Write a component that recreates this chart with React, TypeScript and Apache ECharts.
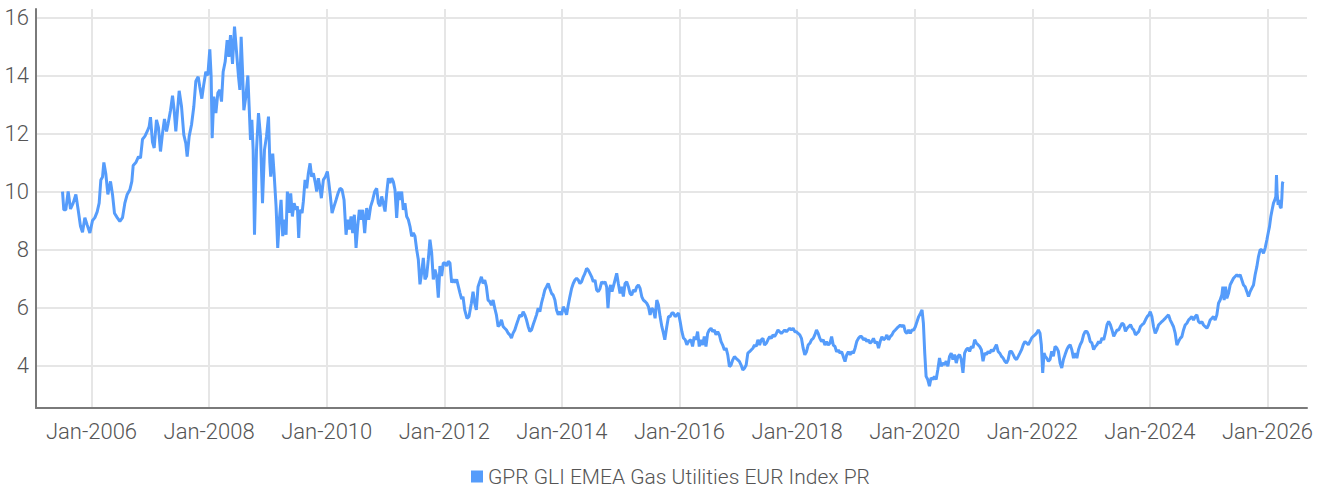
import React, { useEffect, useRef } from 'react';
import * as echarts from 'echarts';

const seriesName = 'GPR GLI EMEA Gas Utilities EUR Index PR';
const xTickYears = [2006, 2008, 2010, 2012, 2014, 2016, 2018, 2020, 2022, 2024, 2026];
const yTicks = [4, 6, 8, 10, 12, 14, 16];

// [decimal year, index level]
const seg2005to2008: [number, number][] = [
  [2005.507,10.0],[2005.529,9.37],[2005.563,9.37],[2005.603,10.0],[2005.643,9.4],[2005.688,9.6],[2005.734,9.9],[2005.773,9.37],[2005.813,8.8],[2005.847,8.6],[2005.887,9.1],[2005.926,8.85],[2005.972,8.57],[2006.017,9.0],[2006.057,9.1],[2006.096,9.3],[2006.130,9.6],[2006.159,10.4],[2006.187,10.5],[2006.210,11.0],[2006.244,10.6],[2006.278,9.9],[2006.323,10.35],[2006.357,9.9],[2006.391,9.25],[2006.437,9.1],[2006.482,8.97],[2006.527,9.1],[2006.567,9.6],[2006.607,9.9],[2006.652,10.06],[2006.686,10.35],[2006.709,10.9],[2006.754,11.0],[2006.799,11.2],[2006.833,11.15],[2006.867,11.8],[2006.907,11.9],[2006.947,12.07],[2006.981,12.24],[2007.003,12.56],[2007.037,11.7],[2007.066,11.5],[2007.105,12.47],[2007.139,12.2],[2007.173,11.38],[2007.207,12.0],[2007.241,12.5],[2007.276,12.07],[2007.304,12.35],[2007.344,12.8],[2007.378,13.3],[2007.406,12.8],[2007.434,12.07],[2007.463,12.8],[2007.491,13.47],[2007.531,12.93],[2007.570,11.95],[2007.604,11.66],[2007.627,11.2],[2007.661,11.9],[2007.701,12.3],[2007.740,12.93],[2007.774,13.8],[2007.814,13.96],[2007.842,13.6],[2007.876,13.2],[2007.910,13.7],[2007.944,14.13],[2007.978,14.0],[2008.012,14.9],[2008.035,13.96],[2008.052,11.84],[2008.080,13.27],[2008.115,12.7],[2008.149,13.4],[2008.183,13.5],[2008.211,13.1],[2008.239,14.13],[2008.273,14.47],[2008.307,15.22],[2008.336,14.64],[2008.364,15.39],[2008.398,14.4],[2008.432,15.68],[2008.466,14.82],[2008.500,13.96],[2008.523,13.5],[2008.545,15.33],[2008.568,14.19],[2008.591,12.8],[2008.625,13.27],[2008.659,14.0],[2008.681,12.93],[2008.704,11.78],[2008.727,12.47],[2008.749,11.44],[2008.772,8.51],[2008.806,11.44],[2008.840,12.7],[2008.874,11.9],[2008.908,9.6],[2008.942,11.44],[2008.976,11.9],[2009.010,12.58],[2009.033,11.0],
];

const seg2009to2012: [number, number][] = [
  [2009.048,10.51],[2009.082,11.31],[2009.105,10.63],[2009.139,9.49],[2009.167,8.06],[2009.195,9.03],[2009.224,9.71],[2009.252,8.46],[2009.280,9.03],[2009.309,8.51],[2009.331,10.0],[2009.360,9.26],[2009.388,9.94],[2009.416,9.14],[2009.445,9.6],[2009.479,9.37],[2009.501,9.49],[2009.524,8.4],[2009.547,9.37],[2009.581,9.26],[2009.603,9.66],[2009.632,10.4],[2009.660,10.11],[2009.688,10.63],[2009.717,10.97],[2009.745,10.51],[2009.773,10.63],[2009.807,10.29],[2009.830,10.0],[2009.858,10.46],[2009.887,10.11],[2009.909,9.77],[2009.943,10.4],[2009.977,10.51],[2010.011,10.69],[2010.034,10.34],[2010.057,9.94],[2010.091,9.26],[2010.125,9.49],[2010.159,9.71],[2010.193,9.94],[2010.227,10.11],[2010.261,10.06],[2010.295,9.71],[2010.329,8.51],[2010.357,9.03],[2010.385,8.69],[2010.414,9.14],[2010.442,8.57],[2010.470,9.2],[2010.499,8.06],[2010.527,8.8],[2010.555,9.37],[2010.584,9.03],[2010.612,9.37],[2010.646,8.57],[2010.680,9.43],[2010.714,9.03],[2010.748,9.49],[2010.782,9.71],[2010.816,10.0],[2010.850,10.11],[2010.878,9.6],[2010.907,9.49],[2010.935,9.83],[2010.963,9.6],[2010.992,9.31],[2011.020,9.94],[2011.048,10.46],[2011.076,10.29],[2011.105,10.46],[2011.133,10.34],[2011.161,10.06],[2011.190,9.09],[2011.218,10.0],[2011.246,9.71],[2011.275,10.0],[2011.303,9.37],[2011.331,9.6],[2011.360,9.14],[2011.388,9.03],[2011.416,8.8],[2011.445,8.46],[2011.473,8.57],[2011.501,8.46],[2011.530,8.0],[2011.558,7.66],[2011.586,6.8],[2011.615,7.2],[2011.643,7.71],[2011.671,6.97],[2011.700,7.09],[2011.728,7.66],[2011.756,8.34],[2011.785,7.89],[2011.813,6.97],[2011.841,7.31],[2011.870,7.09],[2011.898,6.34],[2011.926,7.43],[2011.955,7.09],[2011.983,7.54],[2012.011,7.54],[2012.040,7.43],[2012.068,7.6],[2012.096,7.54],[2012.125,6.86],[2012.153,6.97],[2012.181,6.86],[2012.210,6.97],[2012.238,6.74],[2012.266,6.51],[2012.295,6.29],
];

const seg2012to2016: [number, number][] = [
  [2012.318,6.38],[2012.347,5.92],[2012.386,5.63],[2012.420,5.69],[2012.460,6.15],[2012.489,6.55],[2012.517,6.15],[2012.545,5.92],[2012.574,6.72],[2012.602,6.89],[2012.631,7.06],[2012.659,6.83],[2012.688,6.95],[2012.716,6.72],[2012.744,6.26],[2012.773,6.21],[2012.801,6.09],[2012.830,6.26],[2012.858,5.98],[2012.886,5.75],[2012.915,5.35],[2012.943,5.41],[2012.972,5.58],[2013.000,5.35],[2013.028,5.29],[2013.057,5.23],[2013.085,5.12],[2013.114,5.06],[2013.142,4.95],[2013.170,5.12],[2013.199,5.23],[2013.227,5.41],[2013.256,5.58],[2013.284,5.75],[2013.313,5.69],[2013.341,5.86],[2013.369,5.75],[2013.398,5.58],[2013.426,5.35],[2013.455,5.18],[2013.483,5.23],[2013.511,5.41],[2013.540,5.58],[2013.568,5.75],[2013.597,5.98],[2013.625,5.86],[2013.653,6.15],[2013.682,6.38],[2013.710,6.61],[2013.739,6.72],[2013.767,6.83],[2013.795,6.66],[2013.824,6.49],[2013.852,6.43],[2013.881,6.26],[2013.909,5.92],[2013.938,5.75],[2013.966,5.86],[2013.994,5.75],[2014.023,6.03],[2014.051,5.92],[2014.080,5.75],[2014.108,6.09],[2014.136,6.38],[2014.165,6.66],[2014.193,6.83],[2014.222,6.95],[2014.250,7.01],[2014.278,6.95],[2014.307,6.83],[2014.335,6.89],[2014.364,7.06],[2014.392,7.18],[2014.420,7.35],[2014.449,7.29],[2014.477,7.18],[2014.506,7.06],[2014.534,6.89],[2014.563,6.95],[2014.591,6.61],[2014.619,6.55],[2014.648,6.66],[2014.676,6.89],[2014.705,6.83],[2014.733,6.89],[2014.761,6.72],[2014.784,5.98],[2014.807,6.61],[2014.830,6.78],[2014.852,6.55],[2014.875,6.72],[2014.903,6.95],[2014.932,7.18],[2014.960,6.83],[2014.989,6.49],[2015.017,6.72],[2015.045,6.38],[2015.074,6.83],[2015.102,6.89],[2015.131,6.72],[2015.159,6.49],[2015.188,6.43],[2015.216,6.61],[2015.244,6.55],[2015.273,6.72],[2015.301,6.78],[2015.330,6.66],[2015.358,6.38],[2015.386,6.26],[2015.415,6.21],[2015.443,6.15],[2015.472,6.03],[2015.500,5.75],[2015.528,5.98],[2015.557,5.92],[2015.585,5.63],[2015.614,6.26],[2015.642,6.09],[2015.670,5.69],[2015.699,5.35],[2015.727,5.12],[2015.750,4.89],[2015.784,5.35],[2015.813,5.69],[2015.841,5.69],[2015.869,5.81],[2015.898,5.81],[2015.926,5.69],[2015.955,5.75],[2015.983,5.81],[2016.011,5.52],[2016.040,5.18],[2016.068,4.95],[2016.097,4.89],[2016.125,4.72],[2016.153,4.83],
];

const seg2016to2020: [number, number][] = [
  [2016.194,4.89],[2016.222,4.66],[2016.251,5.0],[2016.279,4.89],[2016.308,5.17],[2016.336,4.66],[2016.365,4.89],[2016.393,4.71],[2016.422,5.0],[2016.450,4.66],[2016.479,5.11],[2016.507,5.23],[2016.536,5.29],[2016.564,5.17],[2016.593,5.23],[2016.621,5.06],[2016.650,5.17],[2016.678,5.06],[2016.707,4.83],[2016.735,4.71],[2016.764,4.54],[2016.792,4.6],[2016.821,4.37],[2016.849,3.97],[2016.877,4.02],[2016.906,4.2],[2016.934,4.31],[2016.963,4.25],[2016.991,4.2],[2017.020,4.14],[2017.048,4.02],[2017.077,3.85],[2017.105,3.91],[2017.134,4.02],[2017.162,4.43],[2017.191,4.48],[2017.219,4.54],[2017.248,4.6],[2017.276,4.71],[2017.305,4.66],[2017.333,4.89],[2017.362,4.71],[2017.390,4.89],[2017.419,4.94],[2017.447,4.71],[2017.476,4.77],[2017.504,4.89],[2017.533,5.0],[2017.561,4.94],[2017.590,5.06],[2017.618,5.0],[2017.647,5.11],[2017.675,5.23],[2017.704,5.17],[2017.732,5.11],[2017.761,5.17],[2017.789,5.23],[2017.818,5.17],[2017.846,5.23],[2017.875,5.29],[2017.903,5.23],[2017.932,5.29],[2017.960,5.17],[2017.989,5.17],[2018.017,5.11],[2018.046,5.06],[2018.074,4.94],[2018.103,4.6],[2018.131,4.37],[2018.160,4.48],[2018.188,4.71],[2018.217,4.77],[2018.245,4.89],[2018.274,4.94],[2018.302,5.06],[2018.330,5.23],[2018.359,5.11],[2018.387,4.94],[2018.416,4.83],[2018.444,4.89],[2018.473,4.71],[2018.501,4.83],[2018.530,4.71],[2018.558,4.77],[2018.587,5.0],[2018.615,4.71],[2018.644,4.66],[2018.672,4.48],[2018.701,4.54],[2018.729,4.43],[2018.758,4.48],[2018.786,4.31],[2018.815,4.14],[2018.843,4.37],[2018.872,4.48],[2018.900,4.37],[2018.929,4.48],[2018.957,4.43],[2018.986,4.6],[2019.014,4.83],[2019.043,4.94],[2019.071,5.0],[2019.100,5.0],[2019.128,4.89],[2019.157,4.94],[2019.185,4.83],[2019.214,4.89],[2019.242,4.77],[2019.271,4.83],[2019.299,4.94],[2019.328,4.77],[2019.356,4.83],[2019.385,4.6],[2019.413,4.83],[2019.442,5.0],[2019.470,4.89],[2019.499,4.94],[2019.527,5.06],[2019.556,4.89],[2019.584,5.0],[2019.613,5.06],[2019.641,5.17],[2019.670,5.23],[2019.698,5.29],[2019.726,5.34],[2019.755,5.4],[2019.783,5.34],[2019.812,5.4],[2019.840,5.17],[2019.869,5.11],[2019.897,5.23],[2019.926,5.11],[2019.954,5.23],[2019.983,5.23],[2020.011,5.34],[2020.040,5.52],[2020.068,5.69],[2020.097,5.8],[2020.125,5.92],
];

const seg2020to2023: [number, number][] = [
  [2020.148,5.46],[2020.171,4.43],[2020.194,3.63],[2020.222,3.52],[2020.251,3.29],[2020.279,3.58],[2020.308,3.52],[2020.336,3.63],[2020.365,3.52],[2020.393,3.86],[2020.422,4.26],[2020.450,3.98],[2020.479,4.09],[2020.507,4.03],[2020.536,4.15],[2020.564,3.98],[2020.593,4.32],[2020.621,4.43],[2020.650,4.21],[2020.678,4.38],[2020.707,4.09],[2020.735,4.32],[2020.764,4.38],[2020.792,4.21],[2020.821,3.75],[2020.849,4.43],[2020.877,4.55],[2020.906,4.61],[2020.934,4.49],[2020.963,4.66],[2020.991,4.61],[2021.020,4.89],[2021.048,4.78],[2021.077,4.72],[2021.105,4.66],[2021.134,4.55],[2021.162,4.15],[2021.191,4.43],[2021.219,4.38],[2021.248,4.49],[2021.276,4.43],[2021.305,4.55],[2021.333,4.49],[2021.362,4.61],[2021.390,4.72],[2021.419,4.49],[2021.447,4.43],[2021.476,4.32],[2021.504,4.26],[2021.533,4.15],[2021.561,4.09],[2021.590,4.21],[2021.618,4.49],[2021.647,4.49],[2021.675,4.38],[2021.704,4.26],[2021.732,4.21],[2021.761,4.32],[2021.789,4.43],[2021.818,4.55],[2021.846,4.72],[2021.875,4.83],[2021.903,4.78],[2021.932,4.72],[2021.960,4.83],[2021.989,4.95],[2022.017,5.01],[2022.046,5.06],[2022.074,5.12],[2022.103,5.23],[2022.131,5.12],[2022.154,4.72],[2022.177,3.75],[2022.199,4.43],[2022.222,4.32],[2022.245,4.26],[2022.274,4.15],[2022.302,4.21],[2022.330,4.49],[2022.359,4.32],[2022.387,4.66],[2022.416,4.61],[2022.444,4.49],[2022.473,4.09],[2022.501,3.92],[2022.530,4.21],[2022.558,4.38],[2022.587,4.55],[2022.615,4.66],[2022.644,4.72],[2022.672,4.55],[2022.701,4.26],[2022.729,4.43],[2022.758,4.26],[2022.786,4.55],[2022.815,4.72],[2022.843,4.83],[2022.872,5.06],[2022.900,5.18],[2022.929,5.18],[2022.957,5.06],[2022.986,4.83],[2023.014,4.78],[2023.043,4.55],[2023.071,4.66],[2023.100,4.72],[2023.128,4.83],[2023.157,4.78],[2023.185,4.95],[2023.214,4.89],[2023.242,5.12],[2023.271,5.41],[2023.299,5.52],[2023.328,5.41],[2023.356,5.23],[2023.385,5.01],[2023.413,5.12],[2023.442,5.23],[2023.470,5.23],[2023.499,5.35],[2023.527,5.46],[2023.556,5.41],[2023.584,5.18],[2023.613,5.29],[2023.641,5.35],[2023.670,5.41],[2023.698,5.29],[2023.726,5.23],[2023.755,5.06],[2023.783,5.12],[2023.812,5.18],[2023.840,5.35],[2023.869,5.41],[2023.897,5.46],[2023.926,5.58],[2023.954,5.69],[2023.983,5.75],
];

const seg2024to2026: [number, number][] = [
  [2024.006,5.86],[2024.034,5.69],[2024.062,5.34],[2024.091,5.11],[2024.119,5.23],[2024.147,5.40],[2024.176,5.46],[2024.204,5.52],[2024.232,5.57],[2024.261,5.63],[2024.289,5.69],[2024.317,5.75],[2024.346,5.57],[2024.374,5.46],[2024.402,5.34],[2024.431,5.11],[2024.459,4.71],[2024.487,4.83],[2024.516,4.94],[2024.544,5.0],[2024.572,5.23],[2024.600,5.40],[2024.629,5.46],[2024.657,5.57],[2024.686,5.63],[2024.714,5.69],[2024.742,5.57],[2024.771,5.69],[2024.799,5.75],[2024.827,5.52],[2024.856,5.46],[2024.884,5.52],[2024.912,5.40],[2024.941,5.34],[2024.969,5.29],[2024.997,5.40],[2025.025,5.57],[2025.054,5.63],[2025.082,5.69],[2025.110,5.57],[2025.139,5.75],[2025.167,6.15],[2025.195,6.26],[2025.224,6.44],[2025.241,6.72],[2025.263,6.26],[2025.286,6.72],[2025.309,6.32],[2025.337,6.49],[2025.365,6.78],[2025.394,6.9],[2025.422,7.01],[2025.450,7.07],[2025.479,7.13],[2025.507,7.07],[2025.535,7.13],[2025.564,6.95],[2025.592,6.78],[2025.620,6.72],[2025.649,6.55],[2025.677,6.38],[2025.705,6.55],[2025.734,6.67],[2025.762,6.78],[2025.790,7.13],[2025.819,7.41],[2025.847,7.76],[2025.875,7.99],[2025.904,7.99],[2025.932,7.87],[2025.960,8.05],[2025.989,8.33],[2026.017,8.62],[2026.034,8.79],[2026.057,9.14],[2026.079,9.37],[2026.102,9.6],[2026.125,9.71],[2026.142,9.83],[2026.153,10.57],[2026.164,9.94],[2026.181,9.54],[2026.198,9.71],[2026.215,9.48],[2026.232,9.43],[2026.244,9.77],[2026.255,10.29],[2026.266,10.34],
];

const allPoints = [
  ...seg2005to2008,
  ...seg2009to2012,
  ...seg2012to2016,
  ...seg2016to2020,
  ...seg2020to2023,
  ...seg2024to2026,
];

const FONT = 'Roboto, "Noto Sans", sans-serif';

export default function App() {
  const ref = useRef<HTMLDivElement>(null);

  useEffect(() => {
    if (!ref.current) return;
    const chart = echarts.init(ref.current, null, { renderer: 'svg' });
    chart.setOption({
      animation: false,
      backgroundColor: '#ffffff',
      grid: { left: 36, right: 17, top: 9, bottom: 85, containLabel: false },
      legend: {
        show: true,
        data: [seriesName],
        left: 466,
        top: 461,
        icon: 'rect',
        itemWidth: 12,
        itemHeight: 12,
        textStyle: { fontFamily: FONT, fontSize: 21, color: '#555555', fontWeight: 300 },
      },
      xAxis: {
        type: 'value',
        min: 2005.056,
        max: 2026.672,
        splitNumber: 10,
        axisLine: { show: true, lineStyle: { color: '#7a7a7a', width: 2 } },
        axisTick: { show: false },
        axisLabel: {
          show: true,
          showMinLabel: false,
          showMaxLabel: false,
          margin: 12,
          fontFamily: FONT,
          fontSize: 22,
          fontWeight: 300,
          color: '#555555',
          formatter: (v: number) => (xTickYears.includes(Math.round(v * 1000) / 1000) ? `Jan-${v}` : ''),
        },
        splitLine: { show: true, showMinLine: false, showMaxLine: false, lineStyle: { color: '#e6e6e6', width: 2 } },
      },
      yAxis: {
        type: 'value',
        min: 2.54,
        max: 16.29,
        splitNumber: 7,
        axisLine: { show: true, lineStyle: { color: '#7a7a7a', width: 2 } },
        axisTick: { show: false },
        axisLabel: {
          show: true,
          showMinLabel: false,
          showMaxLabel: false,
          margin: 7,
          fontFamily: FONT,
          fontSize: 22,
          fontWeight: 300,
          color: '#555555',
          formatter: (v: number) => (yTicks.includes(Math.round(v * 1000) / 1000) ? String(v) : ''),
        },
        splitLine: { show: true, showMinLine: false, showMaxLine: false, lineStyle: { color: '#e6e6e6', width: 2 } },
      },
      series: [
        {
          name: seriesName,
          type: 'line',
          data: allPoints,
          showSymbol: false,
          symbol: 'none',
          color: '#559cfb',
          lineStyle: { color: '#559cfb', width: 3 },
          emphasis: { disabled: true },
        },
      ],
    });
    return () => chart.dispose();
  }, []);

  return (
    <div
      ref={ref}
      style={{ position: 'absolute', left: 0, top: 0, width: 1324, height: 493 }}
    />
  );
}
